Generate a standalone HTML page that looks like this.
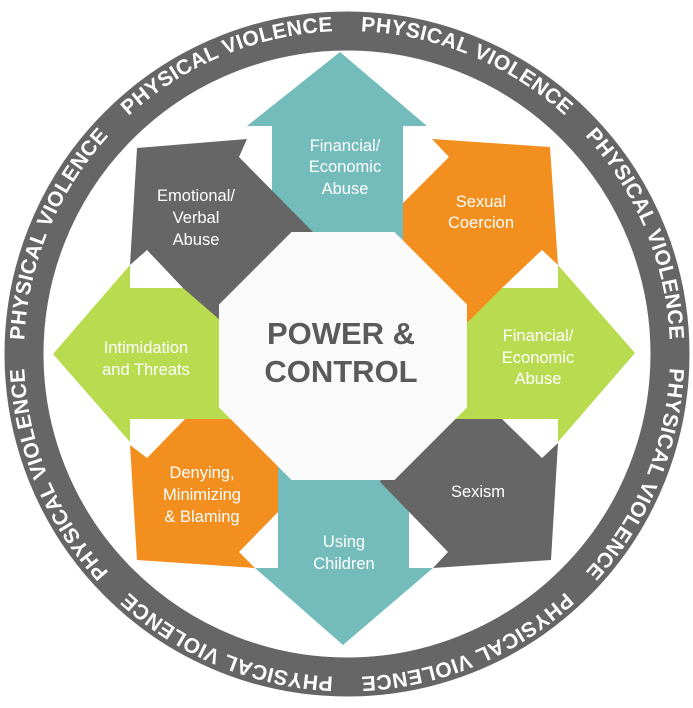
<!DOCTYPE html>
<html><head><meta charset="utf-8"><style>
html,body{margin:0;padding:0;background:#fff;}
svg{display:block;}
.l{font-family:"Liberation Sans",sans-serif;font-size:16.5px;fill:#fff;text-anchor:middle;}
.r{font-family:"Liberation Sans",sans-serif;font-weight:bold;font-size:21px;fill:#fff;text-anchor:middle;letter-spacing:0.5px;}
.c{font-family:"Liberation Sans",sans-serif;font-weight:bold;font-size:31px;fill:#5a5a5a;text-anchor:middle;}
</style></head><body>
<svg width="693" height="708" viewBox="0 0 693 708" xmlns="http://www.w3.org/2000/svg">
<defs>
<path id="ring" d="M347,31 A323,323 0 1,1 346.99,31 Z"/>
</defs>
<circle cx="347" cy="354" r="323" fill="none" stroke="#666" stroke-width="39"/>
<g class="r">
<text class="r"><textPath href="#ring" startOffset="6.25%" textLength="226" lengthAdjust="spacing">PHYSICAL VIOLENCE</textPath></text>
<text class="r"><textPath href="#ring" startOffset="18.75%" textLength="226" lengthAdjust="spacing">PHYSICAL VIOLENCE</textPath></text>
<text class="r"><textPath href="#ring" startOffset="31.25%" textLength="226" lengthAdjust="spacing">PHYSICAL VIOLENCE</textPath></text>
<text class="r"><textPath href="#ring" startOffset="43.75%" textLength="226" lengthAdjust="spacing">PHYSICAL VIOLENCE</textPath></text>
<text class="r"><textPath href="#ring" startOffset="56.25%" textLength="226" lengthAdjust="spacing">PHYSICAL VIOLENCE</textPath></text>
<text class="r"><textPath href="#ring" startOffset="68.75%" textLength="226" lengthAdjust="spacing">PHYSICAL VIOLENCE</textPath></text>
<text class="r"><textPath href="#ring" startOffset="81.25%" textLength="226" lengthAdjust="spacing">PHYSICAL VIOLENCE</textPath></text>
<text class="r"><textPath href="#ring" startOffset="93.75%" textLength="226" lengthAdjust="spacing">PHYSICAL VIOLENCE</textPath></text>
</g>
<polygon fill="#74bcbb" points="340,52 427,126 403,126 403,320 272,320 272,126 247,126"/>
<polygon fill="#74bcbb" points="343,645 433,568 409,568 409,400 278,400 278,568 255,568"/>
<polygon fill="#b9db50" points="53,354 130,265 130,288 300,288 300,419 130,419 130,442"/>
<polygon fill="#b9db50" points="635,353 558,265 558,288 400,288 400,419 558,419 558,442"/>
<polygon fill="#666666" points="137,148 247,139 239,157 314,233 290,330 220,320 183,288 147,250 130,265"/>
<polygon fill="#f28f1f" points="432,139 550,147 558,265 542,250 502,288 468,322 420,322 403,239 403,203 449,157"/>
<polygon fill="#f28f1f" points="130,445 147,458 185,419 260,419 278,463 278,512 239,552 255,568 137,560"/>
<polygon fill="#666666" points="430,419 502,419 542,458 558,443 551,560 433,568 448,552 380,482 400,440"/>
<polygon fill="#fafafa" points="291.5,232 394.5,232 467,304.5 467,407.5 394.5,480 291.5,480 219,407.5 219,304.5"/>
<text class="c" x="341" y="344">POWER &amp;</text>
<text class="c" x="341" y="382">CONTROL</text>
<g class="l">
<text class="l" x="345" y="151">Financial/</text>
<text class="l" x="345" y="172">Economic</text>
<text class="l" x="345" y="194">Abuse</text>
<text class="l" x="196" y="201">Emotional/</text>
<text class="l" x="196" y="223">Verbal</text>
<text class="l" x="196" y="245">Abuse</text>
<text class="l" x="481" y="207">Sexual</text>
<text class="l" x="481" y="228">Coercion</text>
<text class="l" x="146" y="353">Intimidation</text>
<text class="l" x="146" y="375">and Threats</text>
<text class="l" x="538" y="341">Financial/</text>
<text class="l" x="538" y="363">Economic</text>
<text class="l" x="538" y="384">Abuse</text>
<text class="l" x="202" y="478">Denying,</text>
<text class="l" x="202" y="500">Minimizing</text>
<text class="l" x="202" y="522">&amp; Blaming</text>
<text class="l" x="478" y="497">Sexism</text>
<text class="l" x="344" y="547">Using</text>
<text class="l" x="344" y="569">Children</text>
</g>
</svg>
</body></html>
